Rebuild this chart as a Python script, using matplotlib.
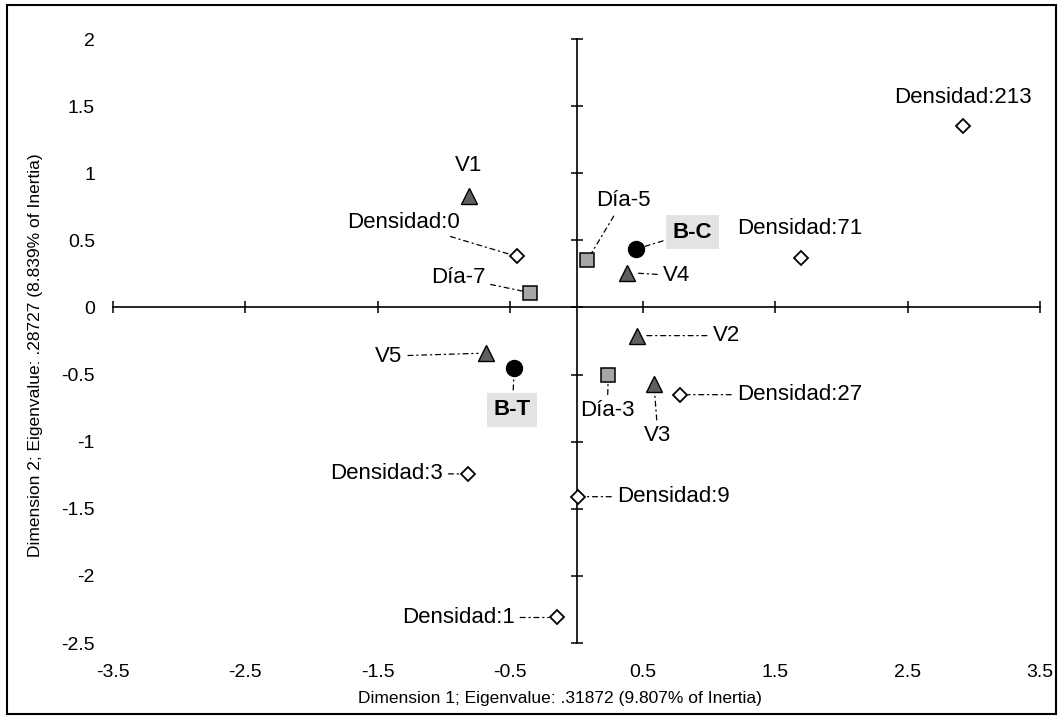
import matplotlib.pyplot as plt
from matplotlib.patches import Rectangle

plt.rcParams['font.family'] = ['Liberation Sans', 'DejaVu Sans']
plt.rcParams['axes.unicode_minus'] = False

# variables (triangulos)
var_lab = ["V1", "V2", "V3", "V4", "V5"]
var_x = [-0.81, 0.46, 0.585, 0.38, -0.68]
var_y = [0.83, -0.21, -0.57, 0.26, -0.34]

# dias (cuadrados)
dia_lab = ["Día-3", "Día-5", "Día-7"]
dia_x = [0.24, 0.08, -0.35]
dia_y = [-0.50, 0.35, 0.11]

# tratamientos (circulos)
trat_lab = ["B-C", "B-T"]
trat_x = [0.45, -0.47]
trat_y = [0.435, -0.45]

# densidades (rombos)
dens_lab = ["Densidad:0", "Densidad:1", "Densidad:3", "Densidad:9",
            "Densidad:27", "Densidad:71", "Densidad:213"]
dens_x = [-0.45, -0.15, -0.82, 0.01, 0.78, 1.695, 2.92]
dens_y = [0.38, -2.31, -1.24, -1.41, -0.65, 0.37, 1.35]

xticks = [-3.5, -2.5, -1.5, -0.5, 0.5, 1.5, 2.5, 3.5]
yticks = [-2.5, -2, -1.5, -1, -0.5, 0, 0.5, 1, 1.5, 2]
ytick_lab = ["-2.5", "-2", "-1.5", "-1", "-0.5", "0", "0.5", "1", "1.5", "2"]

# posicion de etiquetas (pixeles) y si llevan linea
off = {
    "V1": (-1, 31, "center", False), "V2": (75, 0, "left", True),
    "V3": (4, -52, "center", True), "V4": (36, -3, "left", True),
    "V5": (-84, -3, "right", True),
    "Día-3": (-1, -36, "center", True), "Día-5": (36, 60, "center", True),
    "Día-7": (-45, 15, "right", True),
    "B-C": (56, 17, "center", True), "B-T": (-2, -42, "center", True),
    "Densidad:0": (-57, 34, "right", True), "Densidad:1": (-42, 0, "right", True),
    "Densidad:3": (-25, 0, "right", True), "Densidad:9": (39, 0, "left", True),
    "Densidad:27": (57, 0, "left", True), "Densidad:71": (-1, 29, "center", False),
    "Densidad:213": (0, 29, "center", False),
}

fig = plt.figure(figsize=(10.63, 7.2), dpi=100)
pos = [113 / 1063, 1 - 643 / 720, 927 / 1063, 604 / 720]
ax = fig.add_axes(pos)
ax.set_xlim(-3.5, 3.5)
ax.set_ylim(-2.5, 2)
ax.set_xticks(xticks)
ax.set_yticks(yticks)
ax.spines['top'].set_visible(False)
ax.spines['right'].set_visible(False)
ax.spines['left'].set_position(('data', 0))
ax.spines['bottom'].set_position(('data', 0))
ax.spines['left'].set_linewidth(1.2)
ax.spines['bottom'].set_linewidth(1.2)
ax.tick_params(direction='inout', length=9, width=1.1,
               labelbottom=False, labelleft=False)

ax2 = fig.add_axes(pos, sharex=ax, sharey=ax, frameon=False)
ax2.set_xticklabels([str(t) for t in xticks])
ax2.set_yticklabels(ytick_lab)
ax2.tick_params(length=0, labelsize=14)
ax2.tick_params(axis='x', pad=15)
ax2.tick_params(axis='y', pad=13)

ax.plot(dens_x, dens_y, 'D', ms=7.5, mfc='white', mec='black', mew=1.3, zorder=5)
ax.plot(var_x, var_y, '^', ms=11, mfc='#5f5f5f', mec='black', mew=1, zorder=5)
ax.plot(dia_x, dia_y, 's', ms=10.5, mfc='#a6a6a6', mec='black', mew=1.1, zorder=5)
ax.plot(trat_x, trat_y, 'o', ms=11.5, mfc='black', mec='black', zorder=5)

todos = list(zip(var_lab, var_x, var_y)) + list(zip(dia_lab, dia_x, dia_y)) \
    + list(zip(trat_lab, trat_x, trat_y)) + list(zip(dens_lab, dens_x, dens_y))
for lab, x, y in todos:
    dx, dy, ha, linea = off[lab]
    kw = dict(fontsize=16, ha=ha, va='center', textcoords='offset pixels', zorder=6)
    if lab in trat_lab:
        kw['fontweight'] = 'bold'
        kw['bbox'] = dict(boxstyle='square,pad=0.3', fc='#e3e3e3', ec='none')
    if linea:
        kw['arrowprops'] = dict(arrowstyle='-', color='black', lw=0.9,
                                linestyle=(0, (4, 3, 1, 3)), shrinkA=2, shrinkB=6)
    ax.annotate(lab, xy=(x, y), xytext=(dx, dy), **kw)

fig.text(560 / 1063, 1 - 698 / 720,
         "Dimension 1; Eigenvalue: .31872 (9.807% of Inertia)",
         ha='center', va='center', fontsize=12.5)
fig.text(36 / 1063, 1 - 355 / 720,
         "Dimension 2; Eigenvalue: .28727 (8.839% of Inertia)",
         ha='center', va='center', rotation=90, fontsize=12.5)

fig.patches.append(Rectangle((7 / 1063, 1 - 714 / 720), 1049 / 1063, 709 / 720,
                             transform=fig.transFigure, fill=False,
                             ec='black', lw=1.5))

plt.savefig("out.png", dpi=100)
